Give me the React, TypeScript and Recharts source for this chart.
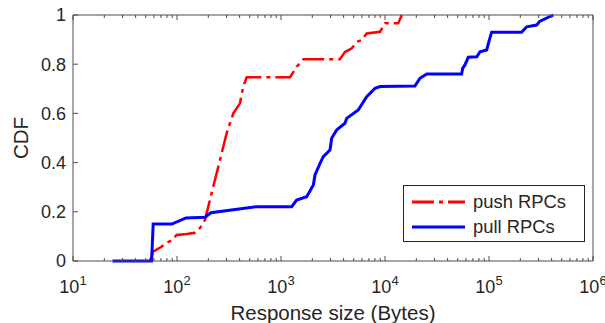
import { LineChart, Line, XAxis, YAxis, Legend } from 'recharts';

const INK = '#262626';
const AXIS = '#4d4d4d';
const FONT = '"Liberation Sans", Arial, Helvetica, sans-serif';

// tick values
const majorSizes = [10, 100, 1000, 10000, 100000, 1000000];
const minorSteps = [2, 3, 4, 5, 6, 7, 8, 9];
const sizeTicks = [
  ...majorSizes,
  ...majorSizes.slice(0, -1).flatMap((d) => minorSteps.map((k) => k * d)),
].sort((a, b) => a - b);
const cdfTicks = [0, 0.2, 0.4, 0.6, 0.8, 1];

const seriesNames = ['push RPCs', 'pull RPCs'];

// push RPCs (red, dash-dot)
const pushSizes = [55, 59, 71, 83, 89, 99, 124, 149, 166, 186, 200, 223, 259, 300, 348, 403, 434, 468, 1222, 1416, 1641, 3690, 4120, 4780, 5340, 5970, 6670, 8960, 10000, 13400, 14500];
const pushCdf = [0, 0.038, 0.058, 0.078, 0.083, 0.106, 0.11, 0.115, 0.133, 0.167, 0.221, 0.302, 0.41, 0.519, 0.6, 0.641, 0.709, 0.747, 0.747, 0.79, 0.82, 0.82, 0.85, 0.864, 0.891, 0.898, 0.925, 0.932, 0.966, 0.966, 1.0];

// pull RPCs (blue, solid)
const pullSizes = [24, 57, 59, 89, 122, 186, 212, 583, 1268, 1413, 1766, 2047, 2123, 2372, 2553, 2958, 3070, 3430, 4120, 4280, 5530, 6670, 8020, 8960, 19400, 21700, 25200, 54600, 55800, 58700, 63200, 76200, 81900, 95000, 100700, 106000, 206000, 230000, 287000, 309000, 415000];
const pullCdf = [0, 0, 0.15, 0.15, 0.175, 0.178, 0.196, 0.221, 0.221, 0.248, 0.261, 0.309, 0.35, 0.397, 0.424, 0.451, 0.499, 0.533, 0.56, 0.58, 0.614, 0.668, 0.702, 0.709, 0.711, 0.743, 0.76, 0.76, 0.783, 0.797, 0.828, 0.83, 0.85, 0.858, 0.898, 0.93, 0.93, 0.952, 0.959, 0.975, 1.0];

const pushData = pushSizes.map((size, i) => ({ size, cdf: pushCdf[i] }));
const pullData = pullSizes.map((size, i) => ({ size, cdf: pullCdf[i] }));

const PUSH_DASH = '22 5 4 5';

const isMajor = (v: number) => Math.abs(Math.log10(v) - Math.round(Math.log10(v))) < 1e-9;

const SizeTick = ({ x, y, payload, top }: any) => {
  const v = payload.value;
  const major = isMajor(v);
  const len = major ? 5 : 3;
  return (
    <g>
      <line x1={x} y1={y} x2={x} y2={top ? y + len : y - len} stroke={AXIS} />
      {major && !top && (
        <text x={x} y={y + 32} textAnchor="middle" fill={INK} fontSize={18} fontFamily={FONT}>
          10<tspan dy={-8} fontSize={13}>{Math.round(Math.log10(v))}</tspan>
        </text>
      )}
    </g>
  );
};

const CdfTick = ({ x, y, payload, right }: any) => (
  <g>
    <line x1={x} y1={y} x2={right ? x - 5 : x + 5} y2={y} stroke={AXIS} />
    {!right && (
      <text x={x - 7} y={y} dy="0.35em" textAnchor="end" fill={INK} fontSize={18} fontFamily={FONT}>
        {payload.value}
      </text>
    )}
  </g>
);

const LegendBox = ({ payload }: any) => {
  const items = [...(payload || [])].sort(
    (a: any, b: any) => seriesNames.indexOf(a.value) - seriesNames.indexOf(b.value),
  );
  return (
    <svg width={182} height={57} style={{ display: 'block' }}>
      <rect x={0.5} y={0.5} width={181} height={56} fill="#fff" stroke={INK} />
      {items.map((entry: any, i: number) => (
        <g key={entry.value}>
          <line
            x1={9}
            x2={62}
            y1={17 + i * 25}
            y2={17 + i * 25}
            stroke={entry.color}
            strokeWidth={3}
            strokeDasharray={entry.value === 'push RPCs' ? PUSH_DASH : undefined}
          />
          <text x={70} y={17 + i * 25} dy="0.35em" fill={INK} fontSize={18.4} fontFamily={FONT}>
            {entry.value}
          </text>
        </g>
      ))}
    </svg>
  );
};

export default function App() {
  return (
    <div style={{ position: 'absolute', left: 0, top: 0, background: '#fff' }}>
      <style>{'body{margin:0}'}</style>
      <LineChart width={605} height={323} margin={{ top: 13, right: 10, bottom: 22, left: 13 }}>
        <XAxis
          dataKey="size"
          type="number"
          scale="log"
          domain={[10, 1000000]}
          allowDataOverflow
          ticks={sizeTicks}
          interval={0}
          height={40}
          tickSize={0}
          tickMargin={0}
          tickLine={false}
          axisLine={{ stroke: AXIS }}
          tick={<SizeTick />}
          label={{
            content: ({ viewBox }: any) => (
              <text
                x={viewBox.x + viewBox.width / 2}
                y={viewBox.y + 59}
                textAnchor="middle"
                fill={INK}
                fontSize={20.5}
                fontFamily={FONT}
              >
                Response size (Bytes)
              </text>
            ),
          }}
        />
        <XAxis
          xAxisId="top"
          orientation="top"
          dataKey="size"
          type="number"
          scale="log"
          domain={[10, 1000000]}
          allowDataOverflow
          ticks={sizeTicks}
          interval={0}
          height={2}
          tickSize={0}
          tickMargin={0}
          tickLine={false}
          axisLine={{ stroke: AXIS }}
          tick={<SizeTick top />}
        />
        <YAxis
          type="number"
          domain={[0, 1]}
          ticks={cdfTicks}
          interval={0}
          width={60}
          tickSize={0}
          tickMargin={0}
          tickLine={false}
          axisLine={{ stroke: AXIS }}
          tick={<CdfTick />}
          label={{
            content: ({ viewBox }: any) => {
              const cx = viewBox.x + 8;
              const cy = viewBox.y + viewBox.height / 2;
              return (
                <text
                  x={cx}
                  y={cy}
                  dy="0.35em"
                  textAnchor="middle"
                  transform={`rotate(-90 ${cx} ${cy})`}
                  fill={INK}
                  fontSize={20.5}
                  fontFamily={FONT}
                >
                  CDF
                </text>
              );
            },
          }}
        />
        <YAxis
          yAxisId="right"
          orientation="right"
          type="number"
          domain={[0, 1]}
          ticks={cdfTicks}
          interval={0}
          width={2}
          tickSize={0}
          tickMargin={0}
          tickLine={false}
          axisLine={{ stroke: AXIS }}
          tick={<CdfTick right />}
        />
        <Line
          data={pushData}
          dataKey="cdf"
          name="push RPCs"
          type="linear"
          stroke="#ff0000"
          strokeWidth={2.5}
          strokeDasharray={PUSH_DASH}
          dot={false}
          isAnimationActive={false}
        />
        <Line
          data={pullData}
          dataKey="cdf"
          name="pull RPCs"
          type="linear"
          stroke="#0000ff"
          strokeWidth={3}
          dot={false}
          isAnimationActive={false}
        />
        <Legend
          layout="horizontal"
          verticalAlign="middle"
          align="center"
          content={<LegendBox />}
          wrapperStyle={{ left: 403, top: 185, width: 182, height: 57 }}
        />
      </LineChart>
    </div>
  );
}
